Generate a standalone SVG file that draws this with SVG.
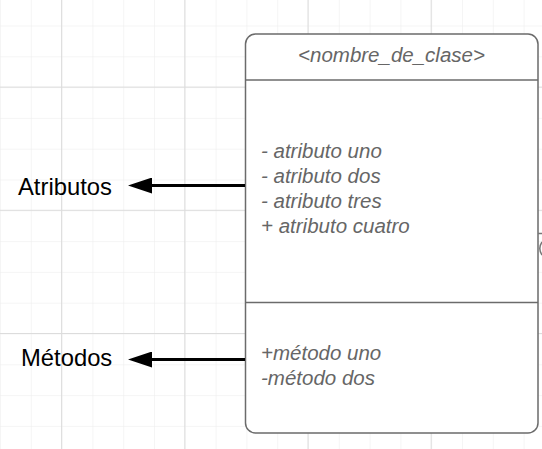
<svg xmlns="http://www.w3.org/2000/svg" width="542" height="449" viewBox="0 0 542 449">
  <defs>
    <pattern id="grid" x="0" y="25.5" width="30.8" height="30.8" patternUnits="userSpaceOnUse">
      <path d="M 0 0 H 30.8 M 0 0 V 30.8" fill="none" stroke="#ebebeb" stroke-width="1"/>
    </pattern>
    <marker id="arrow" viewBox="0 0 24 16" refX="0" refY="8" markerWidth="24" markerHeight="16" markerUnits="userSpaceOnUse" orient="auto-start-reverse">
      <path d="M 0 0 L 24 8 L 0 16 Z" fill="#000"/>
    </marker>
    <style>
      .box { fill: #fff; stroke: #6b6b6b; stroke-width: 1.5; }
      .div { stroke: #6b6b6b; stroke-width: 1.5; }
      .member { font-family: "Liberation Sans", Arial, sans-serif; font-style: italic; font-size: 20.5px; fill: #666; }
      .label { font-family: "Liberation Sans", Arial, sans-serif; font-size: 23.8px; fill: #000; }
      .conn { stroke: #000; stroke-width: 3; fill: none; }
      .major { stroke: #dcdcdc; stroke-width: 1; }
    </style>
  </defs>
  <rect x="0" y="0" width="542" height="449" fill="#fff"/>
  <rect x="0" y="0" width="542" height="449" fill="url(#grid)"/>
  <g id="grid-major">
    <line class="major" x1="61.6" y1="0" x2="61.6" y2="449"/>
    <line class="major" x1="184.8" y1="0" x2="184.8" y2="449"/>
    <line class="major" x1="308" y1="0" x2="308" y2="449"/>
    <line class="major" x1="431.2" y1="0" x2="431.2" y2="449"/>
    <line class="major" x1="0" y1="87.1" x2="542" y2="87.1"/>
    <line class="major" x1="0" y1="210.3" x2="542" y2="210.3"/>
    <line class="major" x1="0" y1="333.5" x2="542" y2="333.5"/>
  </g>

  <g id="class-node">
    <rect class="box" x="245.5" y="34" width="292.5" height="399" rx="10" ry="10"/>
    <line class="div" x1="245.5" y1="80" x2="538" y2="80"/>
    <line class="div" x1="245.5" y1="302.5" x2="538" y2="302.5"/>
    <text class="member" x="391.5" y="62" text-anchor="middle">&lt;nombre_de_clase&gt;</text>
    <text class="member" x="261" y="158">- atributo uno</text>
    <text class="member" x="261" y="183">- atributo dos</text>
    <text class="member" x="261" y="208">- atributo tres</text>
    <text class="member" x="261" y="233">+ atributo cuatro</text>
    <text class="member" x="261" y="360">+método uno</text>
    <text class="member" x="261" y="385">-método dos</text>
  </g>

  <g id="offcanvas-fragment">
    <line x1="538" y1="233.5" x2="542" y2="233.5" stroke="#777" stroke-width="1.5"/>
    <path d="M 542 242 A 11.6 11.6 0 0 0 542 255" fill="none" stroke="#777" stroke-width="1.5"/>
  </g>

  <g id="label-atributos">
    <text class="label" x="18" y="195">Atributos</text>
  </g>
  <g id="label-metodos">
    <text class="label" x="21" y="366">Métodos</text>
  </g>

  <g id="connectors">
    <line class="conn" x1="245" y1="185.5" x2="152" y2="185.5" marker-end="url(#arrow)"/>
    <line class="conn" x1="245" y1="359.5" x2="152" y2="359.5" marker-end="url(#arrow)"/>
  </g>
</svg>
